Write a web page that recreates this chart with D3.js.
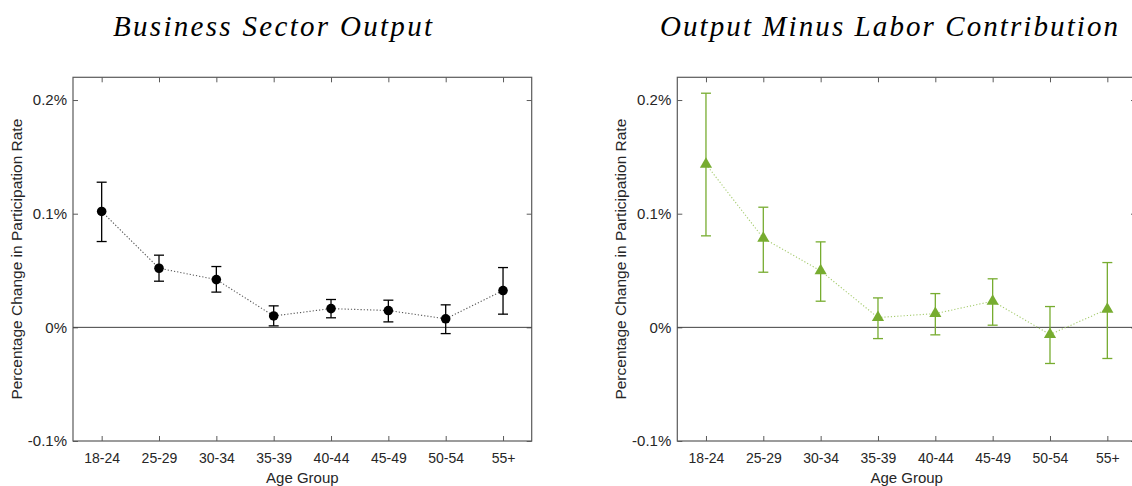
<!DOCTYPE html>
<html>
<head>
<meta charset="utf-8">
<script src="https://cdn.jsdelivr.net/npm/d3@7"></script>
<style>
  html, body { margin: 0; padding: 0; background: #fff; }
  svg { display: block; }
</style>
</head>
<body>
<svg id="chart" width="1132" height="486"></svg>
<script>
// ---- data ----
const categories = ["18-24", "25-29", "30-34", "35-39", "40-44", "45-49", "50-54", "55+"];
const yTickValues = [-0.1, 0, 0.1, 0.2];
const yTickLabels = ["-0.1%", "0%", "0.1%", "0.2%"];

const outputValues = [0.102, 0.052, 0.042, 0.010, 0.0165, 0.0148, 0.0075, 0.0324];
const outputLower  = [0.0755, 0.0406, 0.031, 0.0013, 0.0084, 0.0048, -0.0055, 0.0116];
const outputUpper  = [0.1277, 0.0635, 0.0535, 0.0189, 0.0245, 0.0239, 0.0198, 0.0526];

const minusValues = [0.1435, 0.0784, 0.0497, 0.0086, 0.0121, 0.023, -0.0063, 0.016];
const minusLower  = [0.0805, 0.0485, 0.023, -0.0099, -0.0066, 0.0019, -0.0318, -0.0274];
const minusUpper  = [0.206, 0.1057, 0.0752, 0.0259, 0.0297, 0.0427, 0.0183, 0.057];

const titles = ["Business Sector Output", "Output Minus Labor Contribution"];
const xLabel = "Age Group";
const yLabel = "Percentage Change in Participation Rate";

// ---- drawing ----
const svg = d3.select("#chart");
const axisColor = "#5a5a5a";
const textColor = "#262626";
const sansFont = "'Liberation Sans', Arial, sans-serif";

function drawPanel(opt) {
  const x = d3.scalePoint().domain(categories).range([opt.left, opt.right]).padding(0.5);
  const y = d3.scaleLinear().domain([-0.1, 0.22]).range([441, 77.3]);
  const g = svg.append("g");

  // frame
  g.append("rect")
    .attr("x", opt.left).attr("y", y(0.22))
    .attr("width", opt.right - opt.left).attr("height", y(-0.1) - y(0.22))
    .attr("fill", "none").attr("stroke", axisColor).attr("stroke-width", 1.2);

  const styleAxis = (sel, fs) => {
    sel.select(".domain").remove();
    sel.selectAll(".tick line").attr("stroke", axisColor).attr("stroke-width", 1);
    sel.selectAll(".tick text").attr("fill", textColor)
      .style("font-family", sansFont).style("font-size", fs + "px");
  };
  g.append("g").attr("transform", `translate(0,${y(-0.1)})`)
    .call(d3.axisBottom(x).tickSizeInner(-5).tickSizeOuter(0).tickPadding(12))
    .call(s => styleAxis(s, 14));
  g.append("g").attr("transform", `translate(0,${y(0.22)})`)
    .call(d3.axisTop(x).tickSizeInner(-5).tickSizeOuter(0).tickFormat(""))
    .call(s => styleAxis(s, 14));
  g.append("g").attr("transform", `translate(${opt.left},0)`)
    .call(d3.axisLeft(y).tickValues(yTickValues).tickSizeInner(-5).tickSizeOuter(0).tickPadding(6)
      .tickFormat((d, i) => yTickLabels[i]))
    .call(s => styleAxis(s, 15));
  g.append("g").attr("transform", `translate(${opt.right},0)`)
    .call(d3.axisRight(y).tickValues(yTickValues).tickSizeInner(-5).tickSizeOuter(0).tickFormat(""))
    .call(s => styleAxis(s, 14));

  // zero line
  g.append("line")
    .attr("x1", opt.left).attr("x2", opt.right)
    .attr("y1", y(0)).attr("y2", y(0))
    .attr("stroke", "#404040").attr("stroke-width", 1);

  // connecting dotted line
  g.append("path")
    .datum(opt.values)
    .attr("fill", "none")
    .attr("stroke", opt.lineColor).attr("stroke-width", 1.1)
    .attr("stroke-dasharray", "1.2,2")
    .attr("d", d3.line().x((d, i) => x(categories[i])).y(d => y(d)));

  // error bars
  const eb = g.append("g").selectAll("g").data(categories).join("g");
  eb.append("line")
    .attr("x1", d => x(d)).attr("x2", d => x(d))
    .attr("y1", (d, i) => y(opt.lower[i])).attr("y2", (d, i) => y(opt.upper[i]))
    .attr("stroke", opt.color).attr("stroke-width", 1.3);
  eb.append("line")
    .attr("x1", d => x(d) - 5).attr("x2", d => x(d) + 5)
    .attr("y1", (d, i) => y(opt.lower[i])).attr("y2", (d, i) => y(opt.lower[i]))
    .attr("stroke", opt.color).attr("stroke-width", 1.3);
  eb.append("line")
    .attr("x1", d => x(d) - 5).attr("x2", d => x(d) + 5)
    .attr("y1", (d, i) => y(opt.upper[i])).attr("y2", (d, i) => y(opt.upper[i]))
    .attr("stroke", opt.color).attr("stroke-width", 1.3);

  // markers
  const sym = d3.symbol().type(opt.symbol).size(opt.symbolSize);
  g.append("g").selectAll("path").data(categories).join("path")
    .attr("transform", (d, i) => `translate(${x(d)},${y(opt.values[i])})`)
    .attr("d", sym)
    .attr("fill", opt.color);

  // axis labels
  g.append("text")
    .attr("x", (opt.left + opt.right) / 2).attr("y", 483)
    .attr("text-anchor", "middle").attr("fill", textColor)
    .style("font-family", sansFont).style("font-size", "15px")
    .text(xLabel);
  g.append("text")
    .attr("transform", `translate(${opt.left - 51},${(y(-0.1) + y(0.22)) / 2}) rotate(-90)`)
    .attr("text-anchor", "middle").attr("fill", textColor)
    .style("font-family", sansFont).style("font-size", "15.5px")
    .text(yLabel);

  // title
  g.append("text")
    .attr("x", opt.titleX).attr("y", 36)
    .attr("text-anchor", "middle").attr("fill", "#000")
    .attr("textLength", opt.titleWidth).attr("lengthAdjust", "spacing")
    .style("font-family", "'Liberation Serif', 'Times New Roman', serif")
    .style("font-style", "italic").style("font-size", "29px")
    .text(opt.title);
}

drawPanel({
  left: 73, right: 531.7, values: outputValues, lower: outputLower, upper: outputUpper,
  color: "#000000", lineColor: "#555555", symbol: d3.symbolCircle, symbolSize: 72,
  title: titles[0], titleX: 272.5, titleWidth: 319
});
drawPanel({
  left: 677.3, right: 1136, values: minusValues, lower: minusLower, upper: minusUpper,
  color: "#77ac30", lineColor: "#a6cc70", symbol: d3.symbolTriangle, symbolSize: 64,
  title: titles[1], titleX: 889, titleWidth: 458
});
</script>
</body>
</html>
